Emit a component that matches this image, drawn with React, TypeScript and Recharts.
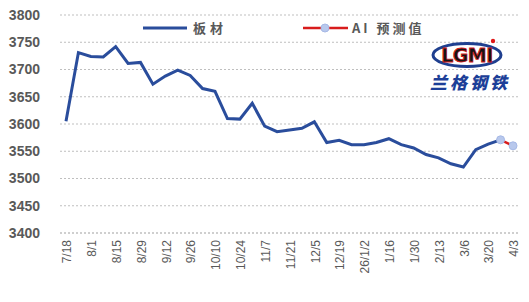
import React from "react";
import { LineChart, Line, XAxis, YAxis, CartesianGrid, Legend } from "recharts";

// weekly dates (labels drawn on every other one)
const dates = [
  "7/18", "7/25", "8/1", "8/8", "8/15", "8/22", "8/29", "9/5", "9/12", "9/19",
  "9/26", "10/3", "10/10", "10/17", "10/24", "10/31", "11/7", "11/14", "11/21", "11/28",
  "12/5", "12/12", "12/19", "12/26", "26/1/2", "1/9", "1/16", "1/23", "1/30", "2/6",
  "2/13", "2/27", "3/6", "3/13", "3/20", "3/27", "4/3",
];

// 板材 actual price
const plate: (number | null)[] = [
  3605, 3731, 3724, 3723, 3742, 3711, 3713, 3673, 3688, 3699,
  3689, 3665, 3660, 3610, 3609, 3638, 3596, 3586, 3589, 3592,
  3604, 3566, 3570, 3562, 3562, 3566, 3573, 3562, 3556, 3544,
  3538, 3527, 3521, 3553, 3563, 3571, null,
];

// AI 预测值 (only last two weeks)
const aiForecast: (number | null)[] = [
  null, null, null, null, null, null, null, null, null, null,
  null, null, null, null, null, null, null, null, null, null,
  null, null, null, null, null, null, null, null, null, null,
  null, null, null, null, null, 3571, 3560,
];

const yTicks = [3400, 3450, 3500, 3550, 3600, 3650, 3700, 3750, 3800];

const data = dates.map((d, i) => ({ date: d, plate: plate[i], ai: aiForecast[i] }));

const BLUE = "#2a4d9c";
const RED = "#d81c1c";
const TEXT = "#595959";

function DateTick({ x, y, payload }: { x?: number; y?: number; payload?: { value: string } }) {
  const tx = (x ?? 0) + 1;
  const ty = (y ?? 0) + 5;
  return (
    <text
      x={tx} y={ty} dy="0.35em" textAnchor="end"
      transform={`rotate(-90, ${tx}, ${ty})`}
      fontSize={12} fill={TEXT} fontFamily="Liberation Sans, Arial, sans-serif"
    >
      {payload?.value}
    </text>
  );
}

function LegendBox() {
  const cn = { fontFamily: "'Noto Sans CJK SC', sans-serif", fontSize: 13, fontWeight: 700, fill: TEXT, letterSpacing: 4 };
  return (
    <svg width={300} height={20}>
      <line x1={3} x2={47} y1={10} y2={10} stroke={BLUE} strokeWidth={3} />
      <text x={53} y={15} style={cn}>板材</text>
      <line x1={163} x2={208} y1={10} y2={10} stroke={RED} strokeWidth={2.5} />
      <circle cx={185} cy={10} r={4} fill="#b8c8ec" stroke="#a6b9e6" strokeWidth={1} />
      <text x={212} y={15} style={{ ...cn, fontFamily: "'Noto Sans CJK SC', sans-serif", letterSpacing: 3 }}>AI 预测值</text>
    </svg>
  );
}

function Logo() {
  return (
    <div style={{ position: "absolute", left: 426, top: 34, width: 90, height: 62, pointerEvents: "none" }}>
      <svg width={90} height={62}>
        <ellipse cx={41} cy={21} rx={34} ry={11.5} fill="none" stroke="#1f3f8f" strokeWidth={3} />
        <text x={41} y={28} textAnchor="middle" fontFamily="'DejaVu Sans', sans-serif" fontWeight={900}
          fontSize={19} fill="#151515" stroke="#d41b1b" strokeWidth={0.8} letterSpacing={-0.5}>
          LGMI
        </text>
        <circle cx={67} cy={7} r={2.2} fill="#e01818" />
        <text x={4} y={55} fontFamily="'Noto Sans CJK SC', sans-serif" fontWeight={900} fontSize={17}
          fill="#1d3f98" letterSpacing={3} fontStyle="italic">
          兰格钢铁
        </text>
      </svg>
    </div>
  );
}

export default function App() {
  return (
    <div style={{ position: "relative", width: 529, height: 302, background: "#fff" }}>
      <style>{"body{margin:0}"}</style>
      <LineChart width={529} height={302} data={data} margin={{ top: 15, right: 10, left: 0, bottom: 0 }}>
        <CartesianGrid vertical={false} stroke="#bfbfbf" strokeDasharray="2 2" horizontalValues={yTicks} />
        <XAxis
          dataKey="date" interval={1} height={69}
          axisLine={{ stroke: "#bfbfbf", strokeDasharray: "2 2" }}
          tickLine={false} tickSize={0} tick={<DateTick />}
          padding={{ left: 6, right: 6 }}
        />
        <YAxis
          domain={[3400, 3800]} ticks={yTicks} width={60} interval={0}
          axisLine={false} tickLine={false} tickSize={0} tickMargin={20}
          tick={{ fontSize: 14, fontWeight: 700, fill: TEXT, fontFamily: "Liberation Sans, Arial, sans-serif" }}
        />
        <Legend
          layout="horizontal" verticalAlign="middle" align="center"
          wrapperStyle={{ top: 18, left: 140, width: 300, height: 20 }}
          content={() => <LegendBox />}
        />
        <Line dataKey="plate" name="板材" stroke={BLUE} strokeWidth={3} dot={false} isAnimationActive={false} />
        <Line
          dataKey="ai" name="AI 预测值" stroke={RED} strokeWidth={2.5} isAnimationActive={false}
          dot={{ r: 4, fill: "#b8c8ec", stroke: "#a6b9e6", strokeWidth: 1 }}
        />
      </LineChart>
      <Logo />
    </div>
  );
}
